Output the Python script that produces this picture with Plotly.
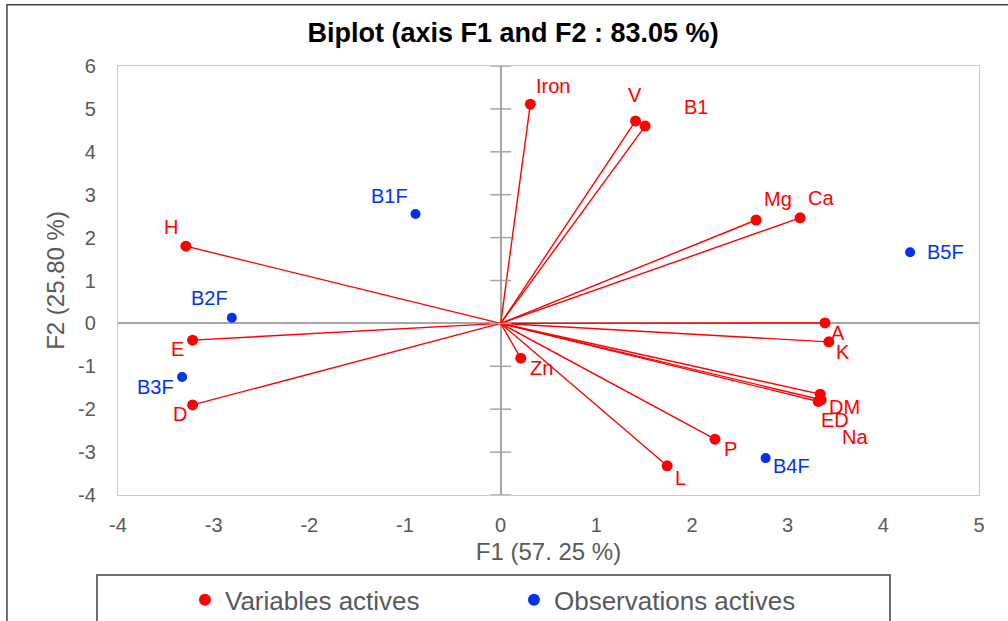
import plotly.graph_objects as go

# ---- data ----
var_names = ["Iron", "V", "B1", "Mg", "Ca", "A", "K", "DM", "ED", "Na", "P", "L", "Zn", "H", "E", "D"]
var_f1 = [0.31, 1.41, 1.51, 2.67, 3.13, 3.39, 3.43, 3.34, 3.32, 3.35, 2.24, 1.74, 0.21, -3.29, -3.22, -3.22]
var_f2 = [5.11, 4.72, 4.60, 2.41, 2.46, 0.01, -0.43, -1.65, -1.82, -1.78, -2.70, -3.32, -0.81, 1.80, -0.39, -1.90]

obs_names = ["B1F", "B2F", "B3F", "B4F", "B5F"]
obs_f1 = [-0.89, -2.81, -3.33, 2.77, 4.28]
obs_f2 = [2.55, 0.13, -1.25, -3.14, 1.66]

x_ticks = [-4, -3, -2, -1, 0, 1, 2, 3, 4, 5]
x_tick_text = ["-4", "-3", "-2", "-1", "0", "1", "2", "3", "4", "5"]
y_ticks = [-4, -3, -2, -1, 0, 1, 2, 3, 4, 5, 6]
y_tick_text = ["-4", "-3", "-2", "-1", "0", "1", "2", "3", "4", "5", "6"]

# ---- label offsets (pixels, styling) ----
var_label_off = {
    "Iron": (23, -18), "V": (-1, -26), "B1": (51, -19), "Mg": (22, -21), "Ca": (21, -20),
    "A": (13, 10), "K": (14, 10), "DM": (24, 13), "ED": (17, 19), "Na": (34, 37),
    "P": (16, 10), "L": (13, 12), "Zn": (21, 10), "H": (-15, -19), "E": (-15, 9), "D": (-13, 9),
}
obs_label_off = {"B1F": (-26, -18), "B2F": (-22, -20), "B3F": (-27, 10), "B4F": (26, 8), "B5F": (35, 0)}

RED = "#FF0000"
BLUE = "#0033EE"
TXT = "#595959"
FONT = "Liberation Sans, Arial, sans-serif"

fig = go.Figure()

# vectors from origin
for n, x, y in zip(var_names, var_f1, var_f2):
    fig.add_trace(go.Scatter(x=[0, x], y=[0, y], mode="lines",
                             line=dict(color=RED, width=1.4), showlegend=False, hoverinfo="skip"))

# cross ticks on the vertical zero line
fig.add_trace(go.Scatter(x=[0] * len(y_ticks), y=y_ticks, mode="markers",
                         marker=dict(symbol="line-ew", size=15, line=dict(color="#A6A6A6", width=1.5)),
                         showlegend=False, hoverinfo="skip"))

fig.add_trace(go.Scatter(x=var_f1, y=var_f2, mode="markers", name="Variables actives",
                         marker=dict(color=RED, size=11), text=var_names))
fig.add_trace(go.Scatter(x=obs_f1, y=obs_f2, mode="markers", name="Observations actives",
                         marker=dict(color=BLUE, size=10), text=obs_names))

for n, x, y in zip(var_names, var_f1, var_f2):
    dx, dy = var_label_off[n]
    fig.add_annotation(x=x, y=y, text=n, showarrow=False, xshift=dx, yshift=-dy,
                       font=dict(color=RED, size=20, family=FONT))
for n, x, y in zip(obs_names, obs_f1, obs_f2):
    dx, dy = obs_label_off[n]
    fig.add_annotation(x=x, y=y, text=n, showarrow=False, xshift=dx, yshift=-dy,
                       font=dict(color=BLUE, size=20, family=FONT))

# outer chart border and legend box (paper units relative to plot area)
fig.add_shape(type="rect", xref="paper", yref="paper", x0=-0.129, x1=1.06, y0=-0.40, y1=1.143,
              line=dict(color="#404040", width=1.5), layer="below")
fig.add_shape(type="rect", xref="paper", yref="paper", x0=-0.0244, x1=0.8966, y0=-0.40, y1=-0.1865,
              line=dict(color="#404040", width=1.5), layer="below")

fig.update_layout(
    width=1008, height=621,
    margin=dict(l=118, r=29, t=66, b=126, autoexpand=False),
    paper_bgcolor="white", plot_bgcolor="white",
    font=dict(family=FONT, color=TXT),
    title=dict(text="<b>Biplot (axis F1 and F2 : 83.05 %)</b>", xref="container", x=0.509,
               xanchor="center", yref="container", y=0.947, yanchor="middle",
               font=dict(size=27, color="black", family=FONT)),
    xaxis=dict(range=[-4, 5], tickvals=x_ticks, ticktext=x_tick_text, showgrid=False, zeroline=True,
               zerolinecolor="#A6A6A6", zerolinewidth=1.6, showline=True, mirror=True,
               linecolor="#C8C8C8", linewidth=1.3, ticks="", ticklabelstandoff=12,
               tickfont=dict(size=20, color=TXT),
               title=dict(text="F1 (57. 25 %)", font=dict(size=24, color=TXT), standoff=8)),
    yaxis=dict(range=[-4, 6], tickvals=y_ticks, ticktext=y_tick_text, showgrid=False, zeroline=True,
               zerolinecolor="#A6A6A6", zerolinewidth=1.6, showline=True, mirror=True,
               linecolor="#C8C8C8", linewidth=1.3, ticks="", ticklabelstandoff=17,
               tickfont=dict(size=20, color=TXT),
               title=dict(text="F2 (25.80 %)", font=dict(size=24, color=TXT), standoff=6)),
    legend=dict(orientation="h", xref="container", yref="container", x=0.1835, xanchor="left",
                y=0.034, yanchor="middle",
                font=dict(size=26, color=TXT, family=FONT), bgcolor="rgba(0,0,0,0)",
                entrywidth=284, entrywidthmode="pixels", itemsizing="constant"),
    showlegend=True,
)

fig.write_html("out.html", config={"displayModeBar": False},
               post_script="document.body.style.margin='0';document.body.style.overflow='hidden';")
